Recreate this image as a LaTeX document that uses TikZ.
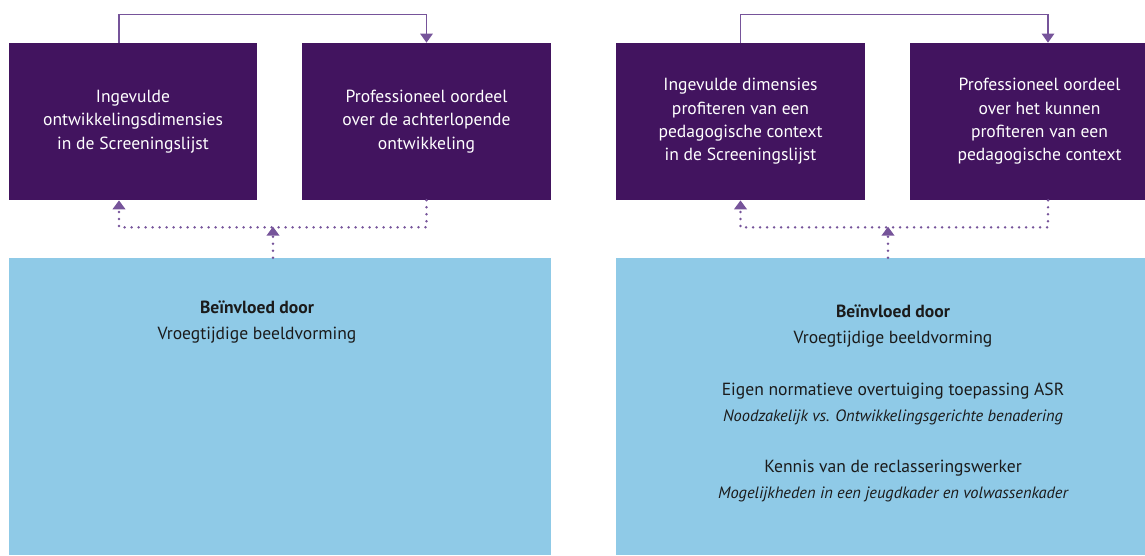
\documentclass[tikz,border=0pt]{standalone}
\usepackage{fontspec}
\setmainfont{PT Sans}
\usepackage{xcolor}
\usepackage{tikz}
\usetikzlibrary{positioning,calc,arrows.meta}

\definecolor{violet}{HTML}{42145F}
\definecolor{lightblue}{HTML}{8FCAE7}
\definecolor{linkviolet}{HTML}{76549A}
\definecolor{darktext}{HTML}{1B1B1B}

\newcommand{\subline}[1]{{\fontsize{9.35}{14.7}\selectfont\itshape #1}}

\begin{document}
\begin{tikzpicture}[x=0.02cm, y=-0.02cm,
    box/.style={fill=violet, text=white, inner sep=0pt, align=center,
        minimum height=157*0.02cm, font=\fontsize{10}{13.3}\selectfont},
    infobox/.style={fill=lightblue, inner sep=0pt, minimum height=297*0.02cm},
    infotext/.style={text=darktext, align=center, inner sep=0pt,
        font=\fontsize{10}{14.7}\selectfont},
    link/.style={linkviolet, line width=0.03cm, -{Triangle[width=0.25cm, length=0.18cm]}},
    dotlink/.style={linkviolet, line width=0.055cm, line cap=round,
        dash pattern=on 0pt off 0.14cm, -{Triangle[width=0.25cm, length=0.18cm]}}]
    \useasboundingbox (0,0) rectangle (1145,555);

    % left part
    \node [box, minimum width=248*0.02cm] (ing1) at (133,121.5) {Ingevulde\\ontwikkelingsdimensies\\in de Screeningslijst};
    \node [box, minimum width=249*0.02cm] (pro1) at (426.5,121.5) {Professioneel oordeel\\over de achterlopende\\ontwikkeling};
    \node [infobox, minimum width=542*0.02cm] (lbox) at (280,406.5) {};
    \node [infotext] (ltext) at (257,322) {\textbf{Beïnvloed door}\\Vroegtijdige beeldvorming};

    \draw [link] ($(ing1.north)+(-14,0)$) -- ++(0,-28) -| (pro1.north);
    \draw [dotlink] (pro1.south) -- ++(0,27) -| ($(ing1.south)+(-14,0)$);
    \draw [dotlink] ($(lbox.north)+(-7,0)$) -- ++(0,-31);

    % right part
    \node [box, minimum width=249*0.02cm] (ing2) at (740.5,121.5) {Ingevulde dimensies\\profiteren van een\\pedagogische context\\in de Screeningslijst};
    \node [box, minimum width=235*0.02cm] (pro2) at (1027.5,121.5) {\hspace*{0.48cm}Professioneel oordeel\\\hspace*{0.48cm}over het kunnen\\\hspace*{0.48cm}profiteren van een\\\hspace*{0.48cm}pedagogische context};
    \node [infobox, minimum width=529*0.02cm] (rbox) at (880.5,406.5) {};
    \node [infotext] (rtext) at (893,403.5) {\textbf{Beïnvloed door}\\Vroegtijdige beeldvorming\\[14.7pt]
        Eigen normatieve overtuiging toepassing ASR\\\subline{Noodzakelijk vs. Ontwikkelingsgerichte benadering}\\[14.7pt]
        Kennis van de reclasseringswerker\\\subline{Mogelijkheden in een jeugdkader en volwassenkader}};

    \draw [link] (ing2.north) -- ++(0,-28) -| ($(pro2.north)+(20.5,0)$);
    \draw [dotlink] ($(pro2.south)+(20.5,0)$) -- ++(0,27) -| (ing2.south);
    \draw [dotlink] ($(rbox.north)+(7.5,0)$) -- ++(0,-31);
\end{tikzpicture}
\end{document}
